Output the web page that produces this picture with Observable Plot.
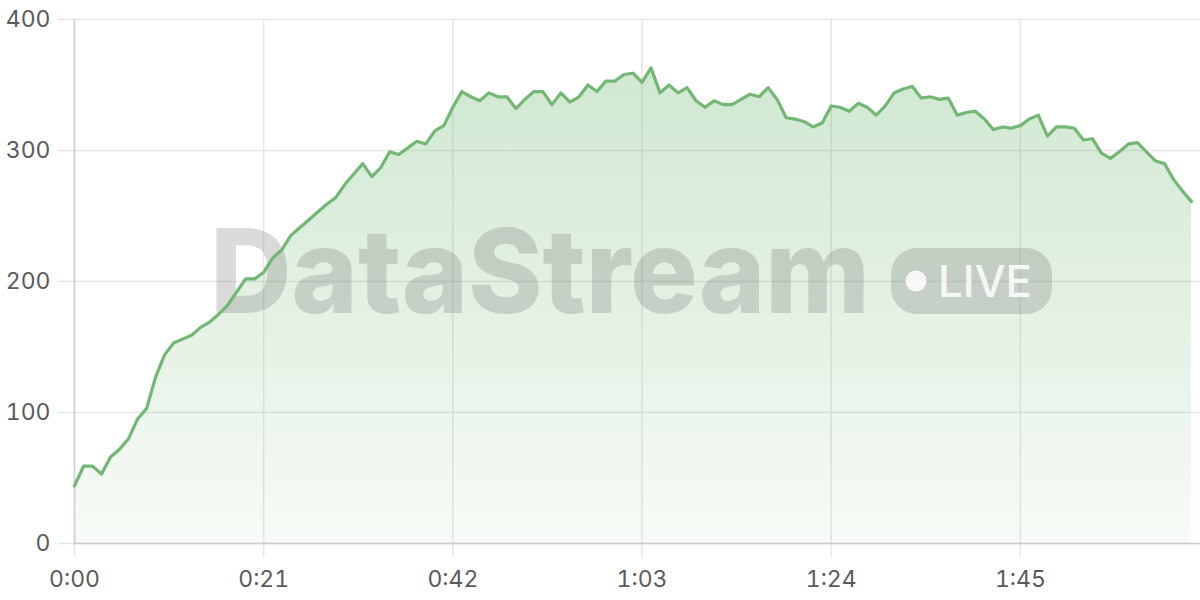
<!DOCTYPE html>
<html>
<head>
<meta charset="utf-8">
<script src="https://cdn.jsdelivr.net/npm/d3@7"></script>
<script src="https://cdn.jsdelivr.net/npm/@observablehq/plot@0.6"></script>
<style>
  html, body { margin: 0; padding: 0; background: #fff; }
  #chart svg { display: block; }
</style>
</head>
<body>
<div id="chart"></div>
<script>
// Values sampled once per second (seconds since start)
const values = [
  44, 59, 59, 53, 66, 72, 80, 95, 103, 127,
  144, 153, 156, 159, 165, 169, 175, 182, 192, 202,
  202, 207, 218, 224, 235, 241, 247, 253, 259, 264,
  274, 282, 290, 280, 287, 299, 297, 302, 307, 305,
  315, 319, 333, 345, 341, 338, 344, 341, 341, 332,
  339, 345, 345, 335, 344, 337, 341, 350, 345, 353,
  353, 358, 359, 352, 363, 344, 350, 344, 348, 338,
  333, 338, 335, 335, 339, 343, 341, 348, 339, 325,
  324, 322, 318, 321, 334, 333, 330, 336, 333, 327,
  334, 344, 347, 349, 340, 341, 339, 340, 327, 329,
  330, 324, 316, 318, 317, 319, 324, 327, 311, 318,
  318, 317, 308, 309, 298, 294, 299, 305, 306, 299,
  292, 290, 278, 269, 261
];
const xTicks = [0, 21, 42, 63, 84, 105];
const yTicks = [0, 100, 200, 300, 400];
const watermarkText = "DataStream";
const badgeText = "LIVE";

const data = values.map((v, i) => ({t: i, v}));
const fmt = s => `${Math.floor(s / 60)}:${String(s % 60).padStart(2, "0")}`;

const green = "#72b874";

const defs = () => {
  const d = d3.create("svg:defs");
  const g = d.append("linearGradient").attr("id", "areaGrad")
    .attr("x1", 0).attr("y1", 0).attr("x2", 0).attr("y2", 1);
  g.append("stop").attr("offset", "0%").attr("stop-color", green).attr("stop-opacity", 0.33);
  g.append("stop").attr("offset", "100%").attr("stop-color", green).attr("stop-opacity", 0.06);
  return d.node();
};

const watermark = () => {
  const g = d3.create("svg:g").attr("pointer-events", "none").attr("text-anchor", "start");
  g.append("text")
    .attr("x", 210).attr("y", 313)
    .attr("text-anchor", "start")
    .attr("font-family", "Inter, 'Open Sans', sans-serif")
    .attr("font-weight", 800)
    .attr("font-size", 117)
    .attr("textLength", 660)
    .attr("lengthAdjust", "spacingAndGlyphs")
    .attr("fill", "#7a7a7a").attr("fill-opacity", 0.28)
    .text(watermarkText);
  g.append("rect")
    .attr("x", 891).attr("y", 248).attr("width", 161).attr("height", 66).attr("rx", 26)
    .attr("fill", "#7a7a7a").attr("fill-opacity", 0.28);
  g.append("circle").attr("cx", 916).attr("cy", 281).attr("r", 10.5)
    .attr("fill", "#fff").attr("fill-opacity", 0.85);
  g.append("text")
    .attr("x", 938).attr("y", 297)
    .attr("text-anchor", "start")
    .attr("font-family", "Inter, 'Open Sans', sans-serif")
    .attr("font-weight", 500)
    .attr("font-size", 44)
    .attr("textLength", 94)
    .attr("lengthAdjust", "spacingAndGlyphs")
    .attr("fill", "#fff").attr("fill-opacity", 0.85)
    .text(badgeText);
  return g.node();
};

const chart = Plot.plot({
  width: 1200,
  height: 600,
  marginLeft: 74,
  marginRight: 0,
  marginTop: 19,
  marginBottom: 57,
  style: {fontFamily: "Inter, 'Open Sans', sans-serif", fontSize: "23px", color: "#5a5a5a", background: "#fff"},
  x: {domain: [0, 125], ticks: xTicks, tickFormat: fmt, label: null},
  y: {domain: [0, 400], ticks: yTicks, label: null},
  marks: [
    defs,
    Plot.gridY(yTicks, {stroke: "#e6e6e6", strokeOpacity: 1, strokeWidth: 1.5}),
    Plot.gridX(xTicks, {stroke: "#e6e6e6", strokeOpacity: 1, strokeWidth: 1.5}),
    Plot.axisY(yTicks, {tickSize: 16, tickPadding: 8, stroke: "#e6e6e6", strokeOpacity: 1, strokeWidth: 1.5, fill: "#5a5a5a", label: null}),
    Plot.axisX(xTicks, {tickSize: 14, tickPadding: 13, stroke: "#e6e6e6", strokeOpacity: 1, strokeWidth: 1.5, fill: "#5a5a5a", tickFormat: fmt, label: null}),
    Plot.areaY(data, {x: "t", y: "v", fill: "url(#areaGrad)"}),
    watermark,
    Plot.ruleY([0], {stroke: "#cccccc", strokeWidth: 1.5}),
    Plot.ruleX([0], {stroke: "#d0d0d0", strokeWidth: 1.5}),
    Plot.lineY(data, {x: "t", y: "v", stroke: green, strokeWidth: 3.2, strokeLinejoin: "round", strokeLinecap: "round"})
  ]
});
document.getElementById("chart").append(chart);
</script>
</body>
</html>
